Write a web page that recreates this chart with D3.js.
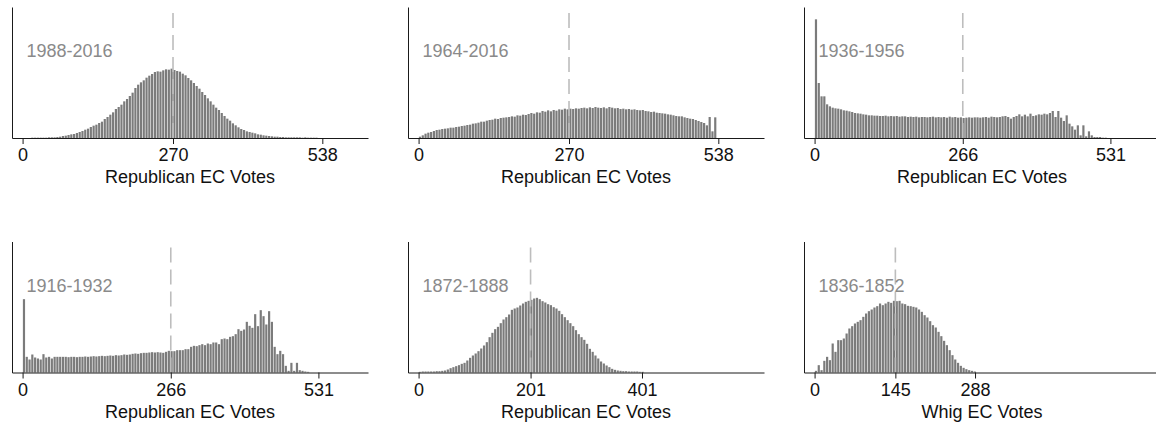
<!DOCTYPE html>
<html>
<head>
<meta charset="utf-8">
<script src="https://cdn.jsdelivr.net/npm/d3@7"></script>
<style>
  html, body { margin: 0; padding: 0; background: #fff; }
  svg { display: block; font-family: "Liberation Sans", Arial, Helvetica, sans-serif; }
</style>
</head>
<body>
<svg id="chart" width="1156" height="423"></svg>
<script>
// Simulated electoral-college outcomes by era: histograms of EC votes (5-vote bins)
const periods = ["1988-2016", "1964-2016", "1936-1956", "1916-1932", "1872-1888", "1836-1852"];
const axisTitles = ["Republican EC Votes", "Republican EC Votes", "Republican EC Votes",
                    "Republican EC Votes", "Republican EC Votes", "Whig EC Votes"];
const tickSets = [[0, 270, 538], [0, 270, 538], [0, 266, 531], [0, 266, 531], [0, 201, 401], [0, 145, 288]];
const majorities = [270, 270, 266, 266, 201, 145];
const binWidth = 5;

// Bin heights (relative frequency), bins start at 0 EC votes
const freq1988 = [0,0,0,1,1,1,1,1,1,2, 2,2,3,4,6,7,9,11,12,15, 18,21,25,28,33,37,40,45,49,57,
  63,70,77,87,93,100,110,117,126,136, 150,160,167,173,181,187,192,198,200,199,
  203,206,205,208,204,201,199,193,188,180, 173,165,156,148,138,129,119,110,100,91,
  84,75,66,58,52,44,38,32,27,24, 20,18,16,14,11,10,8,7,6,5,
  4,4,3,3,2,2,2,2,2,2, 1,2,1,1,1,1,0,0];
const freq1964 = [4,8,13,16,18,21,24,25,27,28, 29,31,31,33,34,36,37,39,40,43,
  44,46,49,49,52,54,55,58,57,60, 61,62,63,65,64,68,67,70,69,72,
  75,73,77,76,81,79,83,80,84,82, 86,85,88,86,88,87,89,88,90,91,
  89,92,90,93,91,90,92,89,93,91, 89,90,87,88,86,87,85,86,84,83,
  84,81,80,78,79,76,75,74,73,71, 70,68,66,65,65,62,60,58,57,54,
  51,48,45,38,63,20,62,0];
const freq1936 = [356,165,125,125,101,95,91,89,88,86, 83,82,80,78,75,74,73,71,70,68,
  68,67,67,66,66,67,65,66,65,66, 64,65,65,63,64,63,64,62,63,63,
  62,63,64,62,63,62,63,61,64,62, 63,61,62,60,61,62,61,62,62,61,
  62,63,61,64,63,62,63,65,66,63, 58,63,66,71,65,70,65,73,66,68,
  71,70,73,71,75,81,63,81,61,51, 68,43,35,25,38,8,38,5,20,8,
  3,3,3,1,1,0,0];
const freq1916 = [220,47,39,54,45,42,39,55,45,47, 42,47,47,47,47,47,46,47,47,46,
  47,47,48,47,48,49,48,49,50,49, 50,51,50,52,51,52,54,53,54,56,
  57,56,58,59,59,60,61,60,61,60, 59,62,65,64,64,67,67,67,70,70,
  77,80,79,82,85,82,87,85,90,90, 85,100,102,100,107,109,115,130,125,129,
  152,140,134,175,139,187,169,144,184,152, 77,55,65,55,20,5,29,5,29,7,
  5,3,2,0,0,0,0];
const freq1872 = [2,3,3,3,3,3,4,4,5,6, 9,13,16,19,22,26,29,36,44,51,
  57,64,72,81,91,106,119,130,137,148, 159,166,174,188,192,195,201,207,212,215,
  218,222,224,220,214,210,205,202,196,192, 185,175,166,157,148,139,127,115,106,98,
  86,71,62,51,42,33,27,21,16,11, 8,6,5,4,4,3,3,3,3,2, 2];
const freq1836 = [5,22,7,35,47,37,87,62,97,97, 102,117,132,139,147,152,157,167,177,184,
  189,195,199,207,202,207,212,209,215,214, 215,207,205,200,199,197,195,189,182,172,
  165,154,142,135,122,109,95,82,67,52, 39,29,20,14,10,7,5,3];
const series = [freq1988, freq1964, freq1936, freq1916, freq1872, freq1836];

// Layout
const panelLefts = [12, 408, 804];
const panelTops = [7, 241.5];
const plotW = 356, plotH = 131;
const xDomain = [-19, 620];
const yMax = 393;

const svg = d3.select("#chart");
const axisColor = "#1a1a1a";

series.forEach((vals, k) => {
  const col = k % 3, row = Math.floor(k / 3);
  const g = svg.append("g")
    .attr("transform", `translate(${panelLefts[col]},${panelTops[row]})`);

  const x = d3.scaleLinear().domain(xDomain).range([0, plotW]);
  const y = d3.scaleLinear().domain([0, yMax]).range([plotH, 0]);

  const bins = vals.map((v, i) => ({ x0: i * binWidth, x1: (i + 1) * binWidth, v }));

  // bars
  g.append("g").selectAll("rect").data(bins).join("rect")
    .attr("x", d => x(d.x0) + 0.3)
    .attr("width", d => Math.max(0, x(d.x1) - x(d.x0) - 0.6))
    .attr("y", d => y(d.v))
    .attr("height", d => plotH - y(d.v))
    .attr("fill", "#7b7b7b");

  // majority reference line
  g.append("line")
    .attr("x1", x(majorities[k])).attr("x2", x(majorities[k]))
    .attr("y1", 6).attr("y2", plotH)
    .attr("stroke", "#bdbdbd").attr("stroke-width", 1.6)
    .attr("stroke-dasharray", "15,7");

  // x axis
  const xAxis = d3.axisBottom(x).tickValues(tickSets[k]).tickSize(6).tickSizeOuter(0)
    .tickFormat(d3.format("d"));
  const ax = g.append("g").attr("transform", `translate(0,${plotH})`).call(xAxis);
  ax.select(".domain").attr("stroke", axisColor);
  ax.selectAll(".tick line").attr("stroke", axisColor);
  ax.selectAll(".tick text")
    .attr("y", 23).attr("dy", 0)
    .attr("font-size", 18).attr("font-family", "Liberation Sans, Arial, sans-serif")
    .attr("fill", "#111");

  // y axis (no ticks)
  const yAxis = d3.axisLeft(y).tickValues([]).tickSizeOuter(0);
  const ay = g.append("g").call(yAxis);
  ay.select(".domain").attr("stroke", axisColor);

  // axis title
  g.append("text")
    .attr("x", plotW / 2).attr("y", plotH + 45)
    .attr("text-anchor", "middle")
    .attr("font-size", 18).attr("fill", "#111")
    .text(axisTitles[k]);

  // era label
  g.append("text")
    .attr("x", 14.5).attr("y", 50)
    .attr("font-size", 18).attr("fill", "#8a8a8a")
    .text(periods[k]);
});
</script>
</body>
</html>
